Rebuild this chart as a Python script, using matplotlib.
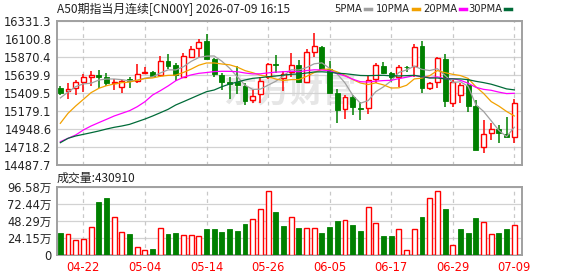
import numpy as np
import matplotlib
matplotlib.use('Agg')
import matplotlib.pyplot as plt
from matplotlib.lines import Line2D

plt.rcParams['font.family'] = ['DejaVu Sans', 'Noto Sans CJK SC']

RED = '#ff0000'
GREEN = '#008000'
CJK = ['Noto Sans CJK SC', 'DejaVu Sans']

title = 'A50期指当月连续[CN00Y] 2026-07-09 16:15'
vol_caption = '成交量:430910'

# daily candles, oldest first
opens = [15481, 15435, 15481, 15558, 15622, 15644, 15614, 15538, 15486, 15589,
         15567, 15673, 15684, 15644, 15819, 15772, 15622, 15878, 15986, 16079,
         15849, 15644, 15548, 15548, 15503, 15320, 15401, 15614, 15788, 15602,
         15678, 15772, 15558, 15942, 16006, 15717, 15417, 15205, 15366, 15217,
         15217, 15589, 15763, 15673, 15622, 15752, 15763, 16015, 15474, 15558,
         15845, 15289, 15388, 15516, 15247, 14718, 14897, 14952, 14885, 14854]
highs = [15503, 15538, 15580, 15653, 15695, 15708, 15666, 15589, 15580, 15614,
         15785, 15746, 15690, 15887, 15913, 15794, 15929, 16015, 16109, 16169,
         15858, 15666, 15618, 15765, 15545, 15452, 15614, 15801, 15900, 15699,
         15922, 15836, 15973, 16178, 16015, 15819, 15461, 15388, 15388, 15302,
         15644, 15794, 15814, 15686, 15772, 15759, 16041, 16079, 15558, 15870,
         15913, 15580, 15538, 15580, 15324, 15068, 15025, 15004, 15110, 15333]
lows = [15384, 15340, 15388, 15422, 15507, 15474, 15503, 15452, 15410, 15481,
        15545, 15657, 15622, 15622, 15717, 15571, 15602, 15870, 15870, 15845,
        15614, 15448, 15337, 15401, 15260, 15282, 15282, 15589, 15666, 15443,
        15614, 15545, 15538, 15878, 15708, 15410, 15033, 15084, 15132, 15068,
        15145, 15538, 15657, 15558, 15494, 15682, 15622, 15417, 15452, 15474,
        15230, 15238, 15289, 15174, 14680, 14649, 14812, 14769, 14846, 14769]
closes = [15417, 15468, 15550, 15614, 15644, 15618, 15538, 15550, 15571, 15563,
          15653, 15682, 15631, 15819, 15763, 15648, 15887, 15973, 16070, 15849,
          15657, 15550, 15529, 15522, 15315, 15379, 15571, 15781, 15772, 15657,
          15772, 15558, 15934, 16015, 15717, 15417, 15196, 15366, 15230, 15205,
          15580, 15772, 15673, 15614, 15742, 15745, 16006, 15474, 15538, 15858,
          15315, 15558, 15516, 15247, 14684, 14888, 14952, 14897, 14854, 15282]
prev_close = 15500  # close of the day before the first candle

ma5 = [15350, 15425, 15495, 15530, 15538.6, 15578.8, 15592.8, 15592.8, 15584.2, 15568.0,
       15575.0, 15603.8, 15620.0, 15669.6, 15709.6, 15708.6, 15749.6, 15818.0, 15868.2, 15885.4,
       15887.2, 15819.8, 15731.0, 15621.4, 15514.6, 15459.0, 15463.2, 15513.6, 15563.6, 15632.0,
       15710.6, 15708.0, 15738.6, 15787.2, 15799.2, 15728.2, 15655.8, 15542.2, 15385.2, 15282.8,
       15315.4, 15430.6, 15492.0, 15568.8, 15676.2, 15709.2, 15756.0, 15716.2, 15701.0, 15724.2,
       15638.2, 15548.6, 15557.0, 15498.8, 15264.0, 15178.6, 15057.4, 14933.6, 14855.0, 14974.6]
ma10 = [15025, 15153, 15247, 15332, 15418, 15473, 15507, 15529, 15546, 15553.3,
        15576.9, 15598.3, 15606.4, 15626.9, 15638.8, 15641.8, 15676.7, 15719.0, 15768.9, 15797.5,
        15797.9, 15784.7, 15774.5, 15744.8, 15700.0, 15673.1, 15641.5, 15622.3, 15592.5, 15573.3,
        15584.8, 15585.6, 15626.1, 15675.4, 15715.6, 15719.4, 15681.9, 15640.4, 15586.2, 15541.0,
        15521.8, 15543.2, 15517.1, 15477.0, 15479.5, 15512.3, 15593.3, 15604.1, 15634.9, 15700.2,
        15673.7, 15652.3, 15636.6, 15599.9, 15494.1, 15408.4, 15303.0, 15245.3, 15176.9, 15119.3]
ma20 = [14790, 14833, 14876, 14940, 14991, 15034, 15076, 15119, 15153, 15187,
        15238, 15302, 15388, 15443, 15503, 15570, 15615, 15645, 15665, 15675.4,
        15687.4, 15691.5, 15690.5, 15685.9, 15669.5, 15657.5, 15659.2, 15670.7, 15680.8, 15685.5,
        15691.4, 15685.2, 15700.4, 15710.2, 15707.9, 15696.9, 15662.4, 15632.0, 15590.0, 15557.8,
        15554.0, 15565.0, 15572.3, 15575.6, 15597.0, 15615.4, 15637.2, 15621.8, 15610.1, 15620.2,
        15597.3, 15597.3, 15576.4, 15538.0, 15486.4, 15460.1, 15447.9, 15424.5, 15405.7, 15409.5]
ma30 = [14777, 14833, 14863, 14884, 14905, 14927, 14952, 14974, 14991, 15012,
        15046, 15080, 15119, 15161, 15204, 15260, 15302, 15345, 15388, 15430,
        15452, 15494, 15528, 15554, 15580, 15601, 15610, 15622, 15631, 15641.8,
        15653.2, 15656.2, 15669.0, 15682.4, 15684.8, 15678.1, 15666.7, 15660.6, 15649.2, 15637.7,
        15635.3, 15638.3, 15639.7, 15632.8, 15632.1, 15635.4, 15639.4, 15622.7, 15605.0, 15605.3,
        15593.9, 15594.2, 15593.7, 15584.1, 15563.1, 15546.5, 15525.9, 15496.4, 15465.8, 15453.3]

# volume in 万 (10k lots)
volume = [30.9, 29.5, 21.6, 22.5, 39.4, 75.0, 80.6, 53.4, 32.3, 30.0,
          11.3, 7.0, 8.9, 38.0, 30.0, 30.9, 28.1, 28.1, 26.7, 37.0,
          37.0, 32.8, 37.0, 34.2, 44.1, 50.6, 64.7, 90.0, 60.9, 41.3,
          53.4, 38.4, 38.4, 38.4, 31.4, 39.8, 48.3, 49.7, 42.7, 34.2,
          67.5, 45.0, 27.2, 27.2, 36.6, 7.0, 36.6, 53.9, 80.2, 90.0,
          65.2, 14.1, 37.0, 31.4, 52.5, 46.4, 29.5, 31.4, 37.0, 43.09]

price_ticks = ['16331.3', '16100.8', '15870.4', '15639.9', '15409.5',
               '15179.1', '14948.6', '14718.2', '14487.7']
vol_ticks = [96.58, 72.44, 48.29, 24.15, 0]
vol_tick_labels = ['96.58万', '72.44万', '48.29万', '24.15万', '0']
date_labels = ['04-22', '05-04', '05-14', '05-26', '06-05', '06-17', '06-29', '07-09']
date_idx = [3, 11, 19, 27, 35, 43, 51, 59]

ma_names = ['5PMA', '10PMA', '20PMA', '30PMA']
ma_colors = ['#a0a0a0', '#f2a100', '#ff00ff', '#006b38']

W, H = 578, 276


def box(left, top, right, bottom):
    return [left / W, 1 - bottom / H, (right - left) / W, (bottom - top) / H]


def fx(px):
    return px / W


def fy(py):
    return 1 - py / H


fig = plt.figure(figsize=(W / 100, H / 100), dpi=100)
ax = fig.add_axes(box(57, 21.3, 522, 165.3))
axv = fig.add_axes(box(57, 186.7, 522, 255.3))

x = np.arange(len(closes))
o, h, l, c = map(np.array, (opens, highs, lows, closes))
up = c > o


def style(a):
    for s in a.spines.values():
        s.set_color('#a0a0a0')
        s.set_linewidth(1.4)
    a.tick_params(length=0, labelsize=8.3, labelcolor='#222222', pad=4)
    a.set_xlim(-0.43, len(x))
    a.set_xticks(date_idx)
    a.grid(axis='y', color='#d2d2d2', lw=0.9, zorder=0)
    a.set_axisbelow(True)
    for t in date_idx:
        a.axvline(t, color='#c8c8c8', lw=0.9, ls=(0, (3, 3)), zorder=0.6)


style(ax)
style(axv)

# main panel
ax.set_ylim(float(price_ticks[-1]), float(price_ticks[0]))
ax.set_yticks([float(t) for t in price_ticks])
ax.set_yticklabels(price_ticks)
ax.set_xticklabels([])

ax.text(0.5, 0.5, '东方财富', transform=ax.transAxes, ha='center', va='center',
        fontsize=24, color='#e6e6e6', family=CJK, fontweight='bold', zorder=0.5)

ax.vlines(x, l, h, colors=np.where(up, RED, GREEN), lw=1.1, zorder=2)
body_lo = np.minimum(o, c)
body_h = np.maximum(np.abs(c - o), 4)
ax.bar(x[up], body_h[up], 0.64, body_lo[up], facecolor='white', edgecolor=RED, lw=1, zorder=3)
ax.bar(x[~up], body_h[~up], 0.64, body_lo[~up], color=GREEN, edgecolor=GREEN, lw=0.6, zorder=3)

for vals, col in zip([ma5, ma10, ma20, ma30], ma_colors):
    ax.plot(x, vals, color=col, lw=0.9, zorder=4)

# volume panel
vol = np.array(volume)
vol_up = np.diff(c, prepend=prev_close) > 0
axv.bar(x[vol_up], vol[vol_up], 0.64, facecolor='white', edgecolor=RED, lw=1, zorder=3)
axv.bar(x[~vol_up], vol[~vol_up], 0.64, color=GREEN, edgecolor=GREEN, lw=0.6, zorder=3)
axv.set_ylim(0, vol_ticks[0])
axv.set_yticks(vol_ticks)
axv.set_yticklabels(vol_tick_labels)
axv.set_xticklabels(date_labels, color=RED)

# header texts
fig.text(fx(57), fy(9.5), title, ha='left', va='center', fontsize=8.6,
         color='#222222', family=CJK)
fig.text(fx(57), fy(178), vol_caption, ha='left', va='center', fontsize=8.6,
         color='#222222', family=CJK)

legend_marker_x = [365, 413, 460, 505]
for name, col, mx in zip(ma_names, ma_colors, legend_marker_x):
    fig.text(fx(mx - 3), fy(9.5), name, ha='right', va='center', fontsize=7.2,
             color='#222222')
    fig.add_artist(Line2D([fx(mx), fx(mx + 6)], [fy(9), fy(9)], color=col, lw=2.5))

fig.savefig('out.png', dpi=100)
